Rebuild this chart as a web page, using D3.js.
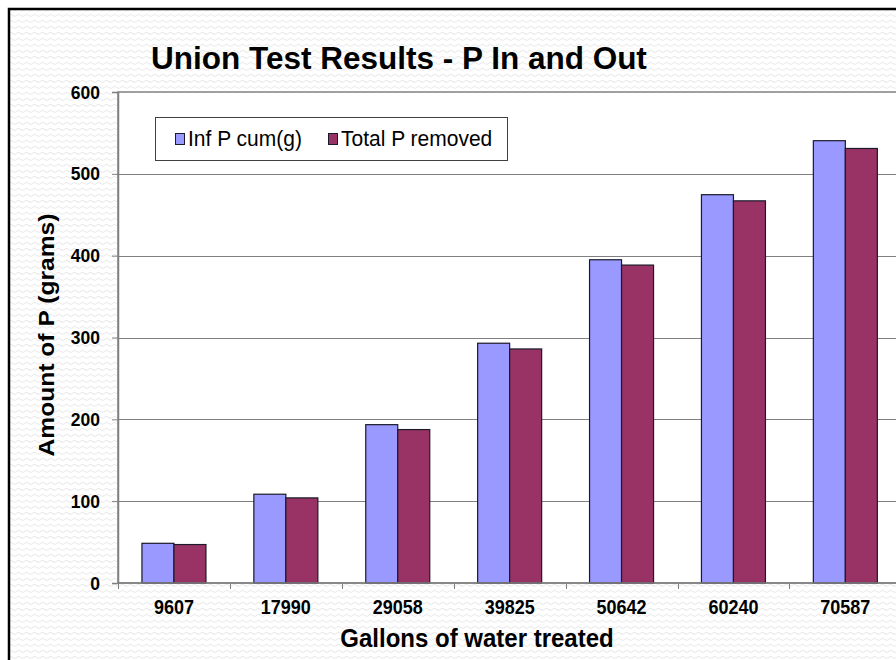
<!DOCTYPE html>
<html>
<head>
<meta charset="utf-8">
<script src="https://cdn.jsdelivr.net/npm/d3@7/dist/d3.min.js"></script>
<style>
  html, body { margin: 0; padding: 0; background: #fff; }
  svg { display: block; font-family: "Liberation Sans", Arial, sans-serif; }
  .tall { transform-box: fill-box; transform-origin: center; }
</style>
</head>
<body>
<svg id="chart" width="896" height="660"></svg>
<script>
// Gallons treated (categories) and cumulative phosphorus in grams
const categories = ["9607", "17990", "29058", "39825", "50642", "60240", "70587"];
const infPCum = [48.5, 108.5, 193.5, 293, 395, 474.5, 540.5];
const totalPRemoved = [47, 104, 187.5, 286, 388.5, 467, 531];
const seriesNames = ["Inf P cum(g)", "Total P removed"];
const seriesColors = ["#9999FF", "#993366"];
const yTicks = [0, 100, 200, 300, 400, 500, 600];

(function drawChart() {
  const svg = d3.select("#chart");

  // slightly taller-than-wide lettering
  const stretch = (sel, s) => sel.classed("tall", true).style("transform", `scaleY(${s})`);

  // Wavy light-grey backdrop
  const defs = svg.append("defs");
  const pat = defs.append("pattern")
    .attr("id", "waves").attr("patternUnits", "userSpaceOnUse")
    .attr("width", 8).attr("height", 6);
  pat.append("rect").attr("width", 8).attr("height", 6).attr("fill", "#ffffff");
  pat.append("path")
    .attr("d", "M0,4 Q2,1 4,3 T8,4")
    .attr("fill", "none").attr("stroke", "#e8e8e8").attr("stroke-width", 1);

  svg.append("rect").attr("x", 0).attr("y", 0).attr("width", 896).attr("height", 660).attr("fill", "#fff");
  svg.append("rect")
    .attr("x", 9).attr("y", 9).attr("width", 920).attr("height", 700)
    .attr("fill", "url(#waves)").attr("stroke", "#000").attr("stroke-width", 2.5);

  // Plot area
  const plotLeft = 118, plotTop = 92, plotBottom = 583;
  const step = 111.9;
  const plotRight = plotLeft + step * categories.length;

  const x = d3.scaleBand().domain(categories).range([plotLeft, plotRight]).padding(0);
  const y = d3.scaleLinear().domain([0, 600]).range([plotBottom, plotTop]);

  svg.append("rect")
    .attr("x", plotLeft).attr("y", plotTop).attr("width", plotRight - plotLeft + 20).attr("height", plotBottom - plotTop)
    .attr("fill", "#fff").attr("stroke", "#808080").attr("stroke-width", 1.5);

  // Horizontal gridlines
  svg.append("g").selectAll("line")
    .data(yTicks.filter(v => v > 0 && v < 600))
    .join("line")
    .attr("x1", plotLeft).attr("x2", plotRight + 20)
    .attr("y1", d => Math.round(y(d)) + 0.5).attr("y2", d => Math.round(y(d)) + 0.5)
    .attr("stroke", "#808080").attr("stroke-width", 1);

  // Bars
  const bw = x.bandwidth();
  const barW = bw * 0.286;
  const groupOffset = (bw - 2 * barW) / 2;
  const series = [infPCum, totalPRemoved];

  series.forEach((vals, si) => {
    svg.append("g").selectAll("rect")
      .data(categories.map((c, i) => ({ c, v: vals[i] })))
      .join("rect")
      .attr("x", d => x(d.c) + groupOffset + si * barW)
      .attr("y", d => y(d.v))
      .attr("width", barW)
      .attr("height", d => y(0) - y(d.v))
      .attr("fill", seriesColors[si])
      .attr("stroke", "#1a1a2a").attr("stroke-width", 1.2);
  });

  // Y axis
  const yAxis = svg.append("g")
    .attr("transform", `translate(${plotLeft},0)`)
    .call(d3.axisLeft(y).tickValues(yTicks).tickSize(6).tickPadding(12).tickFormat(d3.format("d")));
  yAxis.select(".domain").attr("stroke", "#808080").attr("stroke-width", 1.5);
  yAxis.selectAll(".tick line").attr("stroke", "#808080");
  yAxis.selectAll("text")
    .attr("font-size", "17.5px").attr("font-weight", "bold").attr("fill", "#000")
    .attr("font-family", "Liberation Sans, Arial, sans-serif")
    .call(stretch, 1.07);

  // X axis: labels centred on categories, ticks at category boundaries
  const xAxis = svg.append("g")
    .attr("transform", `translate(0,${plotBottom})`)
    .call(d3.axisBottom(x).tickSize(0).tickPadding(17));
  xAxis.select(".domain").remove();
  xAxis.selectAll("text")
    .attr("font-size", "18px").attr("font-weight", "bold").attr("fill", "#000")
    .attr("font-family", "Liberation Sans, Arial, sans-serif")
    .call(stretch, 1.12);

  svg.append("line")
    .attr("x1", plotLeft).attr("x2", plotRight + 20)
    .attr("y1", plotBottom).attr("y2", plotBottom)
    .attr("stroke", "#808080").attr("stroke-width", 1.5);
  svg.append("g").selectAll("line")
    .data(categories)
    .join("line")
    .attr("x1", d => Math.round(x(d)) + 0.5).attr("x2", d => Math.round(x(d)) + 0.5)
    .attr("y1", plotBottom).attr("y2", plotBottom + 6)
    .attr("stroke", "#808080").attr("stroke-width", 1);

  // Title
  svg.append("text")
    .attr("x", 151).attr("y", 69)
    .attr("font-size", "31.5px").attr("font-weight", "bold").attr("fill", "#000")
    .text("Union Test Results - P In and Out");

  // Axis titles
  svg.append("text")
    .attr("x", 477).attr("y", 646).attr("text-anchor", "middle")
    .attr("font-size", "24px").attr("font-weight", "bold").attr("fill", "#000")
    .text("Gallons of water treated")
    .call(stretch, 1.07);

  svg.append("text")
    .attr("transform", "translate(53.5,335) rotate(-90)")
    .attr("text-anchor", "middle")
    .attr("font-size", "22px").attr("font-weight", "bold").attr("fill", "#000")
    .attr("textLength", 243).attr("lengthAdjust", "spacingAndGlyphs")
    .text("Amount of P (grams)");

  // Legend
  const legend = svg.append("g");
  legend.append("rect")
    .attr("x", 155.5).attr("y", 117.5).attr("width", 352).attr("height", 43)
    .attr("fill", "#fff").attr("stroke", "#404040").attr("stroke-width", 1);
  const legendX = [175, 328];
  seriesNames.forEach((name, i) => {
    legend.append("rect")
      .attr("x", legendX[i] + 0.5).attr("y", 133.5).attr("width", 9).attr("height", 11)
      .attr("fill", seriesColors[i]).attr("stroke", "#1a1a2a").attr("stroke-width", 1);
    legend.append("text")
      .attr("x", legendX[i] + 13).attr("y", 145)
      .attr("font-size", "21px").attr("fill", "#000")
      .text(name)
      .call(stretch, 1.08);
  });
})();
</script>
</body>
</html>
